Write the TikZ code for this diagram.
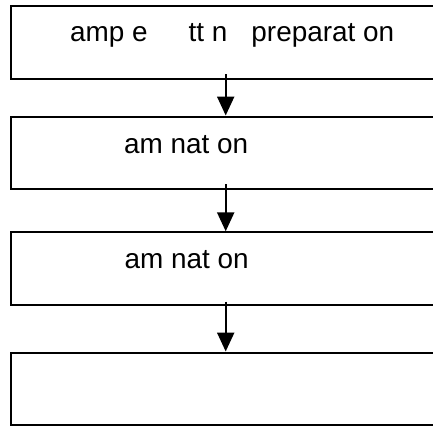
\documentclass[tikz,border=0pt]{standalone}
\usepackage{fontspec}
\setmainfont{Liberation Sans}
\usetikzlibrary{arrows.meta}
\begin{document}
\begin{tikzpicture}[x=1bp,y=-1bp,
  box/.style={draw=black,line width=2bp,rectangle,inner sep=0pt,minimum width=426bp,minimum height=72.5bp,anchor=north west},
  lbl/.style={anchor=base west,inner sep=0pt,font=\fontsize{28}{32}\selectfont},
  flow/.style={line width=2.2bp,-{Triangle[length=19bp,width=17bp]}}]
\useasboundingbox (0,0) rectangle (433,425);
\clip (0,0) rectangle (433,425);
\node[box] (b1) at (9.5,5.2) {};
\node[box] (b2) at (9.5,115.5) {};
\node[box] (b3) at (9.5,231.3) {};
\node[box] (b4) at (9.5,351.5) {};
\node[lbl] (t1) at (70,41.7) {amp e\hspace{41bp}tt n\hspace{24bp}preparat on};
\node[lbl] (t2) at (124,153.3) {am nat on};
\node[lbl] (t3) at (124.5,268) {am nat on};
\coordinate (s1) at (225.7,74);
\coordinate (s2) at (225.7,184);
\coordinate (s3) at (225.7,301.5);
\draw[flow] (s1) -- (s1 |- b2.north);
\draw[flow] (s2) -- (s2 |- b3.north);
\draw[flow] (s3) -- (s3 |- b4.north);
\end{tikzpicture}
\end{document}
